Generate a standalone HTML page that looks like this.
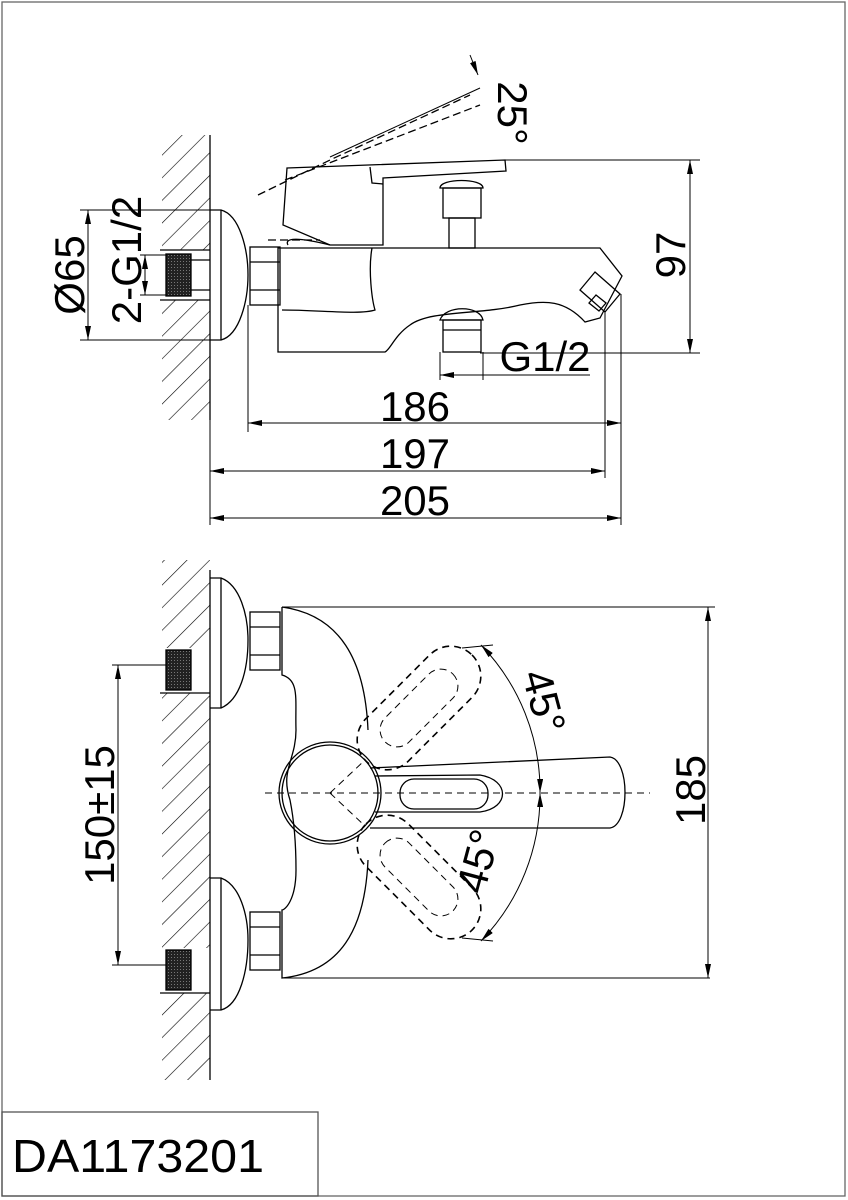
<!DOCTYPE html>
<html><head><style>
html,body{margin:0;padding:0;background:#fff}
svg{display:block}
text{font-family:"Liberation Sans",sans-serif;fill:#000}
</style></head><body>
<svg width="848" height="1200" viewBox="0 0 848 1200" xmlns="http://www.w3.org/2000/svg">
<defs>
<pattern id="h" width="16" height="16" patternUnits="userSpaceOnUse" patternTransform="rotate(45)">
<line x1="0" y1="0" x2="0" y2="16" stroke="#000" stroke-width="1.2"/>
</pattern>
<pattern id="k" width="3" height="3" patternUnits="userSpaceOnUse">
<rect width="3" height="3" fill="#222"/><rect width="1" height="1" fill="#777"/>
</pattern>
<marker id="a" markerWidth="14" markerHeight="6" refX="14" refY="3" orient="auto" markerUnits="userSpaceOnUse">
<path d="M0,0 L14,3 L0,6 Z" fill="#000"/></marker>
<marker id="b" markerWidth="14" markerHeight="6" refX="0" refY="3" orient="auto" markerUnits="userSpaceOnUse">
<path d="M14,0 L0,3 L14,6 Z" fill="#000"/></marker>
</defs>
<g fill="none" stroke="#000" stroke-width="1.3">
<rect x="2" y="2" width="843" height="1194" stroke="#666"/>
<rect x="2" y="1112" width="316" height="84" stroke="#555"/>

<!-- TOP VIEW -->
<rect x="162" y="135" width="48" height="285" fill="url(#h)" stroke="none"/>
<rect x="160" y="250" width="52" height="50" fill="#fff" stroke="none"/>
<line x1="210" y1="135" x2="210" y2="420"/>
<rect x="166" y="254" width="25" height="42" fill="url(#k)" stroke="#000"/>
<line x1="191" y1="260" x2="210" y2="260"/><line x1="191" y1="290" x2="210" y2="290"/>
<line x1="160" y1="250" x2="210" y2="250"/><line x1="160" y1="300" x2="210" y2="300"/>
<line x1="221" y1="210" x2="221" y2="340"/>
<path d="M210,210 L221,210 C240,215 248,250 248,275 C248,300 240,335 221,340 L210,340"/>
<rect x="250" y="247" width="30" height="58"/>
<line x1="250" y1="262" x2="280" y2="262"/><line x1="250" y1="290" x2="280" y2="290"/>
<path d="M278,248 L600,248 L622,276 L600,318 L585,322 C565,300 545,300 520,305 C480,315 430,310 410,325 C395,335 390,350 385,352 L278,352 Z"/>
<path d="M372,248 C368,270 372,300 375,310 C360,315 320,310 282,310" />
<path d="M595,272 L620,294 L605,312 L580,290 Z"/>
<path d="M596,295 L606,303 L599,311 L589,303 Z"/>
<!-- lever -->
<path d="M287,168 L505,160 L506,171 L383,178 L383,245 L330,245 L283,225 Z"/>
<path d="M370,167 L372,183 L383,184"/>
<path d="M330,245 C290,235 285,240 288,245"/>
<rect x="443" y="188" width="38" height="30"/>
<path d="M440,188 C440,178 483,178 483,188 Z"/>
<rect x="449" y="218" width="26" height="30"/>
<path d="M440,320 C445,305 480,305 483,320 Z"/>
<rect x="443" y="320" width="38" height="32"/>
<line x1="443" y1="330" x2="481" y2="330"/>
<g stroke-dasharray="8,4">
<path d="M258,195 L330,160 L470,95"/>
<path d="M285,180 L480,105"/>
<path d="M268,240 L320,240"/>
</g>
<line x1="330" y1="157" x2="480" y2="88" stroke-width="1"/>
<line x1="470" y1="55" x2="478" y2="75" stroke-width="1" marker-end="url(#a)"/>
<!-- dims -->
<line x1="505" y1="160" x2="700" y2="160" stroke-width="1"/>
<line x1="480" y1="353" x2="700" y2="353" stroke-width="1"/>
<line x1="690" y1="160" x2="690" y2="353" stroke-width="1" marker-start="url(#b)" marker-end="url(#a)"/>
<line x1="80" y1="210" x2="221" y2="210" stroke-width="1"/>
<line x1="80" y1="340" x2="221" y2="340" stroke-width="1"/>
<line x1="88" y1="210" x2="88" y2="340" stroke-width="1" marker-start="url(#b)" marker-end="url(#a)"/>
<line x1="140" y1="255" x2="166" y2="255" stroke-width="1"/>
<line x1="140" y1="295" x2="166" y2="295" stroke-width="1"/>
<line x1="145" y1="255" x2="145" y2="295" stroke-width="1" marker-start="url(#b)" marker-end="url(#a)"/>
<line x1="440" y1="352" x2="440" y2="380" stroke-width="1"/>
<line x1="483" y1="352" x2="483" y2="380" stroke-width="1"/>
<line x1="440" y1="375" x2="590" y2="375" stroke-width="1" marker-start="url(#b)"/>
<line x1="248" y1="305" x2="248" y2="432" stroke-width="1"/>
<line x1="605" y1="312" x2="605" y2="478" stroke-width="1"/>
<line x1="621" y1="294" x2="621" y2="525" stroke-width="1"/>
<line x1="210" y1="420" x2="210" y2="525" stroke-width="1"/>
<line x1="248" y1="423" x2="621" y2="423" stroke-width="1" marker-start="url(#b)" marker-end="url(#a)"/>
<line x1="210" y1="471" x2="605" y2="471" stroke-width="1" marker-start="url(#b)" marker-end="url(#a)"/>
<line x1="210" y1="518" x2="621" y2="518" stroke-width="1" marker-start="url(#b)" marker-end="url(#a)"/>

<!-- BOTTOM VIEW -->
<rect x="162" y="560" width="48" height="520" fill="url(#h)" stroke="none"/>
<rect x="160" y="648" width="52" height="45" fill="#fff" stroke="none"/>
<rect x="160" y="948" width="52" height="45" fill="#fff" stroke="none"/>
<line x1="210" y1="570" x2="210" y2="1080"/>
<rect x="166" y="650" width="25" height="40" fill="url(#k)"/>
<rect x="166" y="950" width="25" height="40" fill="url(#k)"/>
<line x1="160" y1="693" x2="210" y2="693"/><line x1="160" y1="993" x2="210" y2="993"/>
<line x1="221" y1="578" x2="221" y2="708"/>
<path d="M210,578 L221,578 C240,585 248,615 248,640 C248,670 240,700 221,708 L210,708"/>
<line x1="221" y1="878" x2="221" y2="1010"/>
<path d="M210,878 L221,878 C240,885 248,915 248,940 C248,970 240,1005 221,1010 L210,1010"/>
<rect x="250" y="612" width="30" height="58"/><line x1="250" y1="627" x2="280" y2="627"/><line x1="250" y1="655" x2="280" y2="655"/>
<rect x="250" y="912" width="30" height="58"/><line x1="250" y1="927" x2="280" y2="927"/><line x1="250" y1="955" x2="280" y2="955"/>
<line x1="282" y1="607" x2="710" y2="607" stroke-width="1"/>
<line x1="282" y1="978" x2="710" y2="978" stroke-width="1"/>
<path d="M282,607 C340,615 365,660 368,730 M282,607 L282,675 C300,680 295,700 296,730 C296,760 280,770 290,800 C296,830 296,860 296,870 C296,900 285,910 282,910 L282,978 C340,972 365,930 368,860"/>
<circle cx="330" cy="793" r="48"/>
<circle cx="330" cy="793" r="51"/>
<path d="M370,768 L610,757 C630,760 630,825 610,828 L370,828"/>
<path d="M375,776 L480,775 C510,780 510,808 480,812 L375,812"/>
<rect x="400" y="779" width="88" height="30" rx="14"/>
<g stroke-dasharray="7,5" stroke-width="1">
<line x1="265" y1="793" x2="650" y2="793"/>
<line x1="330" y1="793" x2="365" y2="760"/><line x1="330" y1="793" x2="365" y2="826"/>
<rect x="389" y="633" width="60" height="150" rx="30" transform="rotate(45 419 708)" stroke-width="1.6"/>
<rect x="402" y="660" width="34" height="96" rx="17" transform="rotate(45 419 708)"/>
<rect x="389" y="802" width="60" height="150" rx="30" transform="rotate(-45 419 877)" stroke-width="1.6"/>
<rect x="402" y="829" width="34" height="96" rx="17" transform="rotate(-45 419 877)"/>
</g>
<path d="M481,645 A210,210 0 0 1 540,793" stroke-width="1" marker-start="url(#b)" marker-end="url(#a)"/>
<path d="M540,793 A210,210 0 0 1 481,941" stroke-width="1" marker-start="url(#b)" marker-end="url(#a)"/>
<line x1="462" y1="648" x2="493" y2="645" stroke-width="1"/>
<line x1="462" y1="938" x2="493" y2="941" stroke-width="1"/>
<line x1="700" y1="607" x2="715" y2="607" stroke-width="1"/>
<line x1="708" y1="607" x2="708" y2="978" stroke-width="1" marker-start="url(#b)" marker-end="url(#a)"/>
<line x1="112" y1="665" x2="166" y2="665" stroke-width="1"/>
<line x1="112" y1="965" x2="166" y2="965" stroke-width="1"/>
<line x1="118" y1="665" x2="118" y2="965" stroke-width="1" marker-start="url(#b)" marker-end="url(#a)"/>
</g>

<g font-size="42">
<text x="415" y="421" text-anchor="middle">186</text>
<text x="415" y="468" text-anchor="middle">197</text>
<text x="415" y="515" text-anchor="middle">205</text>
<text x="545" y="371" text-anchor="middle">G1/2</text>
<text transform="translate(685,255) rotate(-90)" text-anchor="middle">97</text>
<text transform="translate(84,275) rotate(-90)" text-anchor="middle">Ø65</text>
<text transform="translate(141,260) rotate(-90)" text-anchor="middle">2-G1/2</text>
<text transform="translate(498,113) rotate(90)" text-anchor="middle">25°</text>
<text transform="translate(705,790) rotate(-90)" text-anchor="middle">185</text>
<text transform="translate(114,815) rotate(-90)" text-anchor="middle">150±15</text>
<text transform="translate(530,705) rotate(75)" text-anchor="middle">45°</text>
<text transform="translate(492,865) rotate(-75)" text-anchor="middle">45°</text>
</g>
<text x="12" y="1172" font-size="46" textLength="252" lengthAdjust="spacingAndGlyphs">DA1173201</text>
</svg>
</body></html>
